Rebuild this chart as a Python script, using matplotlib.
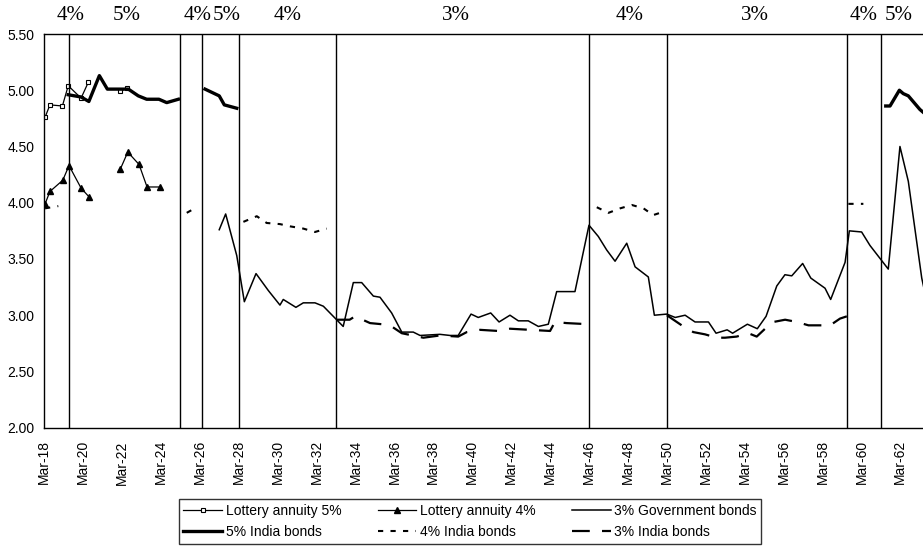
#!/usr/bin/env python
import numpy as np
import matplotlib
matplotlib.use('Agg')
import matplotlib.pyplot as plt

nan = np.nan

# year as decimal (1918.0 = Mar-18)
lot5_x = [1918.05, 1918.3, 1918.94, 1919.24, 1919.9, 1920.27, nan, 1921.9, 1922.28]
lot5_y = [4.76, 4.87, 4.86, 5.04, 4.93, 5.07, nan, 4.99, 5.02]

lot4_x = [1918.05, 1918.3, 1918.96, 1919.28, 1919.9, 1920.32, nan,
          1921.92, 1922.3, 1922.88, 1923.29, 1923.97]
lot4_y = [3.99, 4.10, 4.20, 4.33, 4.13, 4.05, nan,
          4.30, 4.45, 4.34, 4.14, 4.14]

gov3_x = [1927.0, 1927.33, 1927.9, 1928.29, 1928.89, 1929.52, 1930.12, 1930.29,
          1930.94, 1931.32, 1931.92, 1932.35, 1933.03, 1933.37, 1933.89, 1934.32,
          1934.92, 1935.26, 1935.86, 1936.38, 1936.97, 1937.32, 1938.34, 1938.86,
          1939.28, 1939.94, 1940.31, 1940.95, 1941.38, 1941.94, 1942.37, 1942.88,
          1943.4, 1943.91, 1944.34, 1945.28, 1946.0, 1946.48, 1946.91, 1947.34,
          1947.94, 1948.37, 1949.05, 1949.36, 1950.0, 1950.43, 1950.94, 1951.45,
          1952.14, 1952.53, 1953.1, 1953.38, 1954.14, 1954.65, 1955.1, 1955.65,
          1956.07, 1956.42, 1956.98, 1957.4, 1958.13, 1958.42, 1959.16, 1959.38,
          1960.01, 1960.44, 1961.38, 1961.98, 1962.41, 1963.1, 1963.2]
gov3_y = [3.76, 3.90, 3.53, 3.12, 3.37, 3.22, 3.09, 3.14,
          3.07, 3.11, 3.11, 3.08, 2.96, 2.90, 3.29, 3.29,
          3.17, 3.16, 3.02, 2.85, 2.85, 2.82, 2.83, 2.82,
          2.82, 3.01, 2.98, 3.02, 2.94, 3.00, 2.95, 2.95,
          2.90, 2.92, 3.21, 3.21, 3.80, 3.70, 3.58, 3.48,
          3.64, 3.43, 3.34, 3.00, 3.01, 2.98, 3.00, 2.94,
          2.94, 2.84, 2.87, 2.84, 2.92, 2.88, 2.99, 3.26,
          3.36, 3.35, 3.46, 3.33, 3.24, 3.14, 3.47, 3.75,
          3.74, 3.62, 3.41, 4.50, 4.19, 3.33, 3.25]

ind5_x = [1919.24, 1919.9, 1920.3, 1920.84, 1921.25, 1921.9, 1922.33, 1922.84,
          1923.27, 1923.9, 1924.3, 1924.9, nan,
          1926.27, 1927.0, 1927.26, 1927.9, nan,
          1961.25, 1961.47, 1961.95, 1962.15, 1962.41, 1963.0, 1963.2]
ind5_y = [4.96, 4.94, 4.90, 5.13, 5.01, 5.01, 5.01, 4.95,
          4.92, 4.92, 4.89, 4.92, nan,
          5.01, 4.95, 4.87, 4.84, nan,
          4.86, 4.86, 5.00, 4.97, 4.95, 4.83, 4.80]

ind4_x = [1918.05, 1918.73, nan, 1925.33, 1925.84, nan,
          1928.24, 1928.93, 1929.44, 1930.12, 1930.64, 1931.32, 1931.92, 1932.52, nan,
          1946.4, 1947.0, 1947.6, 1948.2, 1948.8, 1949.3, 1949.65, nan,
          1959.33, 1960.1]
ind4_y = [3.95, 3.97, nan, 3.91, 3.96, nan,
          3.83, 3.88, 3.82, 3.81, 3.79, 3.77, 3.74, 3.77, nan,
          3.96, 3.91, 3.95, 3.98, 3.95, 3.89, 3.91, nan,
          3.99, 3.99]

ind3_x = [1933.0, 1933.7, 1933.98, 1934.75, 1935.35, 1935.86, 1936.38, 1937.49,
          1938.34, 1939.28, 1939.72, 1940.4, 1941.34, 1941.94, 1942.97, 1944.0,
          1944.25, 1944.85, 1945.97, nan,
          1950.0, 1950.85, 1951.36, 1951.96, 1952.56, 1952.99, 1953.59, 1954.19,
          1954.62, 1955.05, 1955.48, 1956.08, 1956.68, 1957.28, 1957.96, 1958.39,
          1958.9, 1959.25]
ind3_y = [2.96, 2.96, 2.99, 2.93, 2.92, 2.90, 2.84, 2.80,
          2.82, 2.81, 2.85, 2.87, 2.86, 2.88, 2.87, 2.86,
          2.94, 2.93, 2.92, nan,
          3.00, 2.90, 2.85, 2.83, 2.80, 2.80, 2.81, 2.84,
          2.81, 2.88, 2.94, 2.96, 2.94, 2.91, 2.91, 2.91,
          2.97, 2.99]

# regime boundaries and the coupon written above each regime
regime_bounds = [1919.3, 1925.0, 1926.1, 1928.0, 1933.0, 1946.0, 1950.0, 1959.27, 1961.0]
regime_labels = ['4%', '5%', '4%', '5%', '4%', '3%', '4%', '3%', '4%', '5%']
regime_label_x = [1919.36, 1922.24, 1925.91, 1927.37, 1930.51, 1939.17,
                  1948.09, 1954.55, 1960.12, 1961.90]

tick_years = list(range(1918, 1963, 2))
tick_labels = ['Mar-%02d' % (y % 100) for y in tick_years]

plt.rcParams['font.family'] = ['Liberation Sans', 'DejaVu Sans']

W, H = 923, 546
fig = plt.figure(figsize=(W / 100, H / 100), dpi=100)
left, top, bottom = 44.1, 34.0, 427.7
ax = fig.add_axes([left / W, 1 - bottom / H, (W - left) / W, (bottom - top) / H])

h_l5, = ax.plot(lot5_x, lot5_y, color='black', lw=0.9, marker='s', ms=3.5,
                mfc='white', mec='black', mew=0.8, label='Lottery annuity 5%')
h_l4, = ax.plot(lot4_x, lot4_y, color='black', lw=0.9, marker='^', ms=4.5,
                mfc='black', mec='black', label='Lottery annuity 4%')
h_g3, = ax.plot(gov3_x, gov3_y, color='black', lw=1.1, label='3% Government bonds')
h_i5, = ax.plot(ind5_x, ind5_y, color='black', lw=2.4, label='5% India bonds')
h_i4, = ax.plot(ind4_x, ind4_y, color='black', lw=1.5, dashes=(2.5, 3.5),
                label='4% India bonds')
h_i3, = ax.plot(ind3_x, ind3_y, color='black', lw=1.6, dashes=(8, 5.5),
                label='3% India bonds')

for xb in regime_bounds:
    ax.axvline(xb, color='black', lw=1.0)

for lab, xl in zip(regime_labels, regime_label_x):
    ax.text(xl, 1.047, lab, transform=ax.get_xaxis_transform(), ha='center',
            va='center', fontsize=15, family=['Liberation Serif', 'DejaVu Serif'])

ax.set_xlim(1918, 1918 + (W - left) / 19.46)
ax.set_ylim(2.0, 5.5)
ax.set_yticks([2.0, 2.5, 3.0, 3.5, 4.0, 4.5, 5.0, 5.5])
ax.set_yticklabels(['%.2f' % v for v in ax.get_yticks()], fontsize=10)
ax.set_xticks(tick_years)
ax.set_xticklabels(tick_labels, rotation=90, fontsize=10)
ax.tick_params(axis='x', length=0, pad=9)
ax.tick_params(axis='y', length=0, pad=7)
ax.spines['right'].set_visible(False)
for s in ['left', 'top', 'bottom']:
    ax.spines[s].set_linewidth(1.0)

handles = [h_l5, h_i5, h_l4, h_i4, h_g3, h_i3]
leg = fig.legend(handles=handles, labels=[h.get_label() for h in handles],
                 loc='lower center', bbox_to_anchor=(470 / W, 2 / H), ncol=3,
                 fontsize=10, frameon=True, fancybox=False, handlelength=2.8,
                 handletextpad=0.25, columnspacing=2.6, labelspacing=0.5,
                 borderpad=0.35, borderaxespad=0)
leg.get_frame().set_edgecolor('black')
leg.get_frame().set_linewidth(1.0)

fig.savefig('out.png', dpi=100)
